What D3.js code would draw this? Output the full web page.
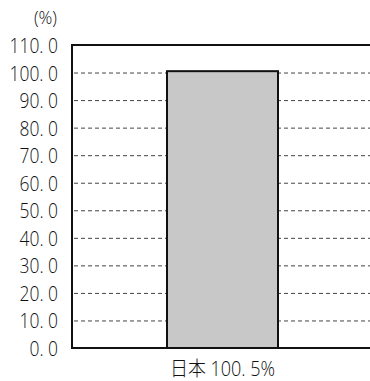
<!DOCTYPE html>
<html><head><meta charset="utf-8">
<script src="https://cdn.jsdelivr.net/npm/d3@7"></script>
<style>body{margin:0;background:#fff}svg{display:block}</style>
</head><body>
<svg id="c" width="370" height="381"></svg>
<script>
const categories = ["日本"];
const values = [100.5];
const barLabels = ["日本 100. 5%"];
const yTicks = [0,10,20,30,40,50,60,70,80,90,100,110];
const yTickLabels = ["0. 0","10. 0","20. 0","30. 0","40. 0","50. 0","60. 0","70. 0","80. 0","90. 0","100. 0","110. 0"];
const unitLabel = "(%)";

const svg = d3.select("#c");
const font = "'Open Sans','Noto Sans CJK JP',sans-serif";
const L = 72, R = 373, T = 45, B = 348;
const y = d3.scaleLinear().domain([0,110]).range([B,T]);
const x = d3.scaleBand().domain(categories).range([L,R]).paddingInner(0).paddingOuter(0.856);

// gridlines
svg.append("g").selectAll("line").data(yTicks.filter(t=>t>0 && t<110)).join("line")
  .attr("x1",L+2).attr("x2",R).attr("y1",d=>y(d)+0.5).attr("y2",d=>y(d)+0.5)
  .attr("stroke","#444").attr("stroke-width",1).attr("stroke-dasharray","4,3");

// bars
svg.append("g").selectAll("rect").data(values).join("rect")
  .attr("x",(d,i)=>x(categories[i])).attr("width",x.bandwidth())
  .attr("y",d=>y(d)).attr("height",d=>B-y(d))
  .attr("fill","#c8c8c8").attr("stroke","#111").attr("stroke-width",2);

// frame
svg.append("path").attr("d",`M${R},${T}H${L}V${B}H${R}`).attr("fill","none")
  .attr("stroke","#111").attr("stroke-width",2);

// y tick labels
svg.append("g").selectAll("text").data(yTicks).join("text")
  .attr("transform",d=>`translate(58,${y(d)+8}) scale(0.83,1)`)
  .attr("text-anchor","end")
  .attr("font-family",font).attr("font-size",21).attr("font-weight",300).attr("fill","#111")
  .text((d,i)=>yTickLabels[i]);

svg.append("text").attr("transform","translate(57,24) scale(0.9,1)").attr("text-anchor","end")
  .attr("font-family",font).attr("font-size",19).attr("font-weight",300).attr("fill","#111").text(unitLabel);

// category labels
svg.append("g").selectAll("text").data(categories).join("text")
  .attr("transform",d=>`translate(${x(d)+x.bandwidth()/2},376) scale(0.9,1)`)
  .attr("text-anchor","middle")
  .attr("font-family",font).attr("font-size",20).attr("font-weight",300).attr("fill","#111")
  .text((d,i)=>barLabels[i]);
</script>
</body></html>
